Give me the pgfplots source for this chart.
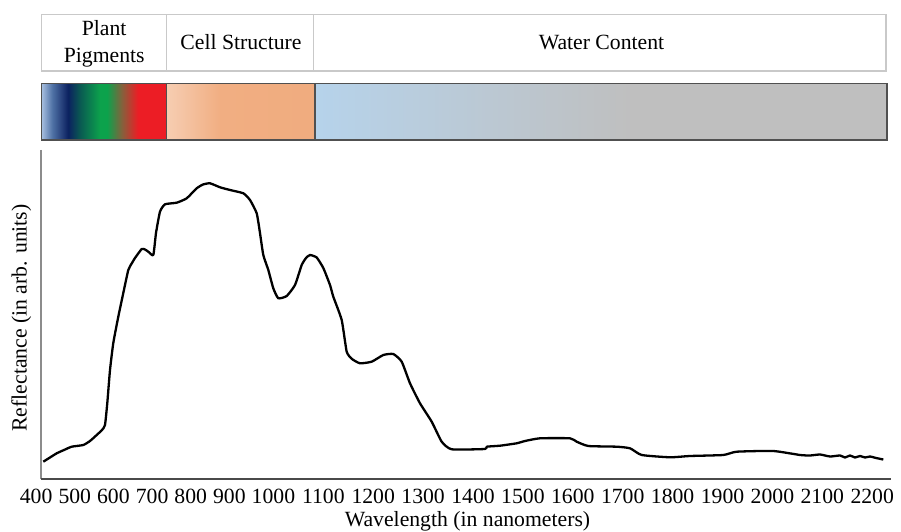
\documentclass[border=0pt]{standalone}
\usepackage{fontspec}
\setmainfont{Liberation Serif}
\usepackage{pgfplots}
\pgfplotsset{compat=1.18}

\definecolor{pA}{HTML}{A6BEDF}
\definecolor{pB}{HTML}{5072A6}
\definecolor{pC}{HTML}{0B2160}
\definecolor{pD}{HTML}{0A5A52}
\definecolor{pE}{HTML}{0CA24C}
\definecolor{pF}{HTML}{86603C}
\definecolor{pG}{HTML}{EC1D25}
\definecolor{cA}{HTML}{F7CDB1}
\definecolor{cB}{HTML}{F5C6A7}
\definecolor{cC}{HTML}{F1AE82}
\definecolor{cD}{HTML}{F0AC7F}
\definecolor{wA}{HTML}{B6D3EB}
\definecolor{wB}{HTML}{BFBFBF}
\definecolor{boxgray}{HTML}{C9C9C9}
\definecolor{bardark}{HTML}{505050}
\definecolor{lineL}{HTML}{8C8C8C}
\definecolor{lineB}{HTML}{4A4A4A}

\pgfdeclarehorizontalshading{pigments}{100bp}{color(0bp)=(pA); color(25bp)=(pA); color(29.2bp)=(pB); color(35.6bp)=(pC); color(40.4bp)=(pD); color(48.4bp)=(pE); color(51.2bp)=(pE); color(57.2bp)=(pF); color(63.6bp)=(pG); color(75bp)=(pG); color(100bp)=(pG)}
\pgfdeclarehorizontalshading{cells}{100bp}{color(0bp)=(cA); color(25bp)=(cA); color(29.5bp)=(cB); color(43bp)=(cC); color(75bp)=(cD); color(100bp)=(cD)}
\pgfdeclarehorizontalshading{water}{100bp}{color(0bp)=(wA); color(25bp)=(wA); color(52.8bp)=(wB); color(75bp)=(wB); color(100bp)=(wB)}

\pgfplotstableread{
pos refl
43.3 17.3
50 21.5
56.7 25.7
64 29
71.7 32.3
83.3 34
90 38
96.7 44
102 49
105 54
107.3 76
110 109
113.3 136
118.3 162.3
123.3 186
128.3 209
132 216
135 221
141.7 230
145 229.5
148.3 227.3
153.3 224
156 246
160 267.3
165 274.7
176.7 276.3
186.7 280.7
196.7 290.7
203 294.5
210 295.7
220 291.7
230 289
243.3 285.7
250 279
256.7 265.7
260 246
263.3 224
268.3 209
273.3 190.7
278.3 180.7
286.7 183
295 194
301.7 214
306 221
310 224
316.7 221.5
323.3 211
330 194
333.3 182.3
341.7 159
346.7 127.3
352 120
360 115.7
371.7 117.3
383.3 124
393.3 125
401.7 117.3
410 95.7
420 75.7
431.7 57.3
441.7 37.3
451.7 29.7
485 30
486.7 32.3
500 33.3
516.7 35.7
525 38
540 40.7
570 40.7
576.7 37.3
588.3 33
616.7 32.3
630 30.7
641.7 24
670 21.7
690 23
723.3 24
736.7 27.3
773.3 28
800 24
810 23.5
820 24.5
830 22.5
840 23.5
845 21.5
850 23.5
855 21.5
860 23
865 21.5
870 22.5
876 21
883.3 19.5
}\spectrum

\begin{document}
\begin{tikzpicture}[font=\fontsize{21.7}{26}\selectfont]
\begin{axis}[
  x=1pt, y=1pt,
  xmin=30, xmax=895, ymin=0, ymax=329,
  clip=false,
  axis line style={draw=none},
  ytick=\empty,
  xtick={36.1,74.8,113.4,152.1,190.7,229.4,273.4,323.3,373.2,423.1,473,522.9,572.8,622.7,672.6,722.5,772.4,822.3,872.2},
  xticklabels={400,500,600,700,800,900,1000,1100,1200,1300,1400,1500,1600,1700,1800,1900,2000,2100,2200},
  xtick pos=bottom,
  major tick length=0pt,
  xticklabel style={anchor=base, yshift=-24pt, font=\fontsize{21.7}{26}\selectfont},
  xlabel={Wavelength (in nanometers)},
  ylabel={Reflectance (in arb. units)},
  every axis x label/.style={at={(axis cs:467.5,-47)}, anchor=base},
  every axis y label/.style={at={(axis cs:26.7,161)}, rotate=90, anchor=base},
]
\addplot[black, line width=2.3pt, line join=round, smooth, tension=0.3] table[x=pos, y=refl] {\spectrum};

% axis lines
\draw[lineL, line width=1.3pt] (axis cs:41,329) -- (axis cs:41,0);
\draw[lineB, line width=1.3pt] (axis cs:41,0) -- (axis cs:891,0);

% label boxes
\draw[boxgray, line width=1.2pt, fill=white] (axis cs:41.7,408) rectangle (axis cs:886,464.7);
\draw[boxgray, line width=1.2pt] (axis cs:166.5,408) -- (axis cs:166.5,464.7);
\draw[boxgray, line width=1.2pt] (axis cs:313.5,408) -- (axis cs:313.5,464.7);
\node[align=center, font=\fontsize{21.7}{27}\selectfont, inner sep=0pt] at (axis cs:104.2,435.6) {Plant\\Pigments};
\node[inner sep=0pt] at (axis cs:241,436.5) {Cell Structure};
\node[inner sep=0pt] at (axis cs:601.5,436.5) {Water Content};

% colour bar
\shade[shading=pigments] (axis cs:41.7,339) rectangle (axis cs:166.5,395.7);
\shade[shading=cells] (axis cs:166.5,339) rectangle (axis cs:315,395.7);
\shade[shading=water] (axis cs:315,339) rectangle (axis cs:887,395.7);
\draw[bardark, line width=1.3pt] (axis cs:41.7,339) rectangle (axis cs:887,395.7);
\draw[bardark, line width=1.3pt] (axis cs:166.5,339) -- (axis cs:166.5,395.7);
\draw[bardark, line width=1.3pt] (axis cs:315,339) -- (axis cs:315,395.7);

\coordinate (BL) at (axis cs:0,-53);
\coordinate (TR) at (axis cs:901,479);
\end{axis}
\pgfresetboundingbox
\useasboundingbox (BL) rectangle (TR);
\end{tikzpicture}
\end{document}
